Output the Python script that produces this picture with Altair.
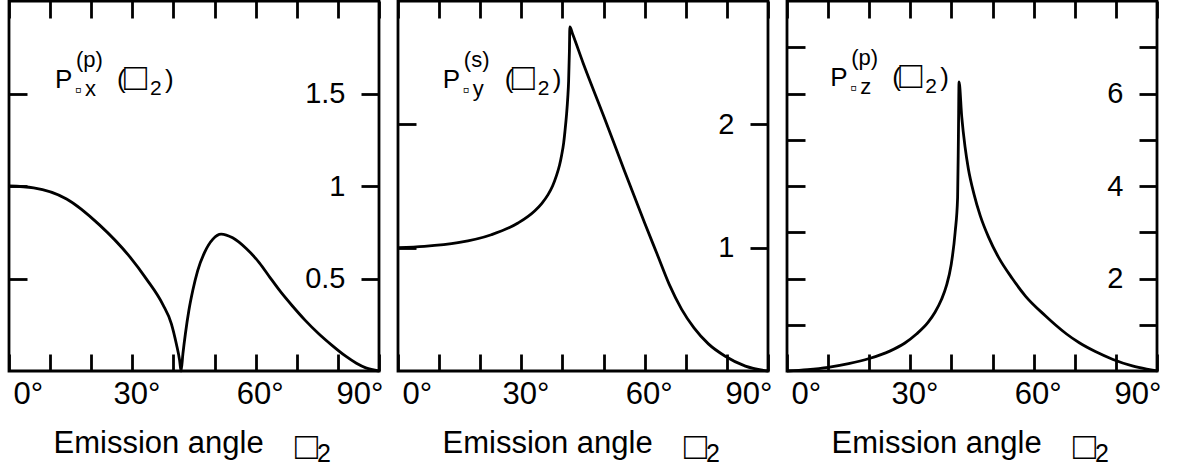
import altair as alt
import pandas as pd

# Emission angle (degrees) and normalized emitted power for the three dipole orientations
angle_x = [0, 6, 14, 22, 29.35, 33.4, 37.4, 39.5, 40.7, 41.5, 41.85, 42.3, 42.9, 43.75, 44.7, 45.9,
           47.55, 49.6, 51.6, 54.4, 57.7, 60.9, 63.5, 66, 69, 72, 75.4, 78.5, 81.9, 84.5, 86.8, 90]
power_x = [1.0, 0.99, 0.93, 0.79, 0.618, 0.498, 0.36, 0.255, 0.147, 0.058, 0.0, 0.093, 0.20, 0.327, 0.435, 0.543,
           0.64, 0.713, 0.74, 0.72, 0.662, 0.585, 0.505, 0.43, 0.35, 0.275, 0.20, 0.14, 0.08, 0.042, 0.017, 0.0]

angle_y = [0, 6.4, 14.6, 22.7, 29.2, 33.3, 35, 36.5, 37.6, 38.5, 39.3, 39.8, 40.3, 40.6, 41.0, 41.3,
           41.5, 41.7, 41.8, 42.5, 45, 50, 55, 60, 63, 66, 69, 72, 75.5, 79.6, 84.5, 90]
power_y = [1.0, 1.01, 1.04, 1.105, 1.20, 1.30, 1.36, 1.43, 1.50, 1.58, 1.67, 1.75, 1.85, 1.94, 2.08, 2.22,
           2.35, 2.6, 2.79, 2.73, 2.50, 2.07, 1.63, 1.20, 0.95, 0.70, 0.50, 0.35, 0.22, 0.12, 0.04, 0.0]

angle_z = [0, 5, 10, 15, 20, 25, 28.6, 31.5, 34.3, 36, 37.6, 38.8, 39.9, 40.9, 41.5, 41.7, 41.85,
           42.5, 43.3, 44.1, 45.5, 47, 49, 51.5, 54.8, 58, 62.9, 65.4, 68, 71.1, 75, 79.3, 84, 87.5, 90]
power_z = [0, 0.03, 0.08, 0.16, 0.27, 0.43, 0.60, 0.80, 1.05, 1.27, 1.55, 1.85, 2.28, 3.0, 3.75, 5.1, 6.25,
           5.5, 4.85, 4.38, 3.82, 3.36, 2.90, 2.45, 2.0, 1.62, 1.19, 0.99, 0.8, 0.61, 0.42, 0.25, 0.11, 0.04, 0]

# Axis ranges, tick positions and labelled ticks per panel
y_domains = [[0, 2], [0, 3], [0, 8]]
y_ticks = [[0.5, 1, 1.5], [1, 2], [1, 2, 3, 4, 5, 6, 7]]
y_labelled = [[0.5, 1, 1.5], [1, 2], [2, 4, 6]]
x_ticks = list(range(0, 91, 10))
x_labelled = [0, 30, 60, 90]

# Panel annotations: superscript, subscript, anchor position (angle, value)
ann_sup = ["(p)", "(s)", "(p)"]
ann_sub = ["x", "y", "z"]
ann_angle = [11.2, 10.9, 10.5]
ann_value = [1.53, 2.295, 6.16]

x_title = "Emission angle"

FONT = "Liberation Sans"
W, H = 370, 370
STROKE = 2.8


def panel(angles, powers, i):
    df = pd.DataFrame({"angle": angles, "power": powers})
    xs = alt.Scale(domain=[0, 90], nice=False, zero=False)
    ys = alt.Scale(domain=y_domains[i], nice=False, zero=False)

    tick_style = dict(tickWidth=STROKE, tickColor="black", domain=False, grid=False,
                      minExtent=0, maxExtent=400)

    labelled = " || ".join(f"datum.value == {v}" for v in x_labelled)
    x_bottom = alt.Axis(
        orient="bottom", values=x_ticks, offset=-17, tickSize=17, **tick_style,
        labelExpr=f"({labelled}) ? datum.value + '°' : ''",
        labelFlush=True, labelOverlap=False, labelFont=FONT, labelFontSize=31,
        labelColor="black", labelPadding=8, labelOffset=4,
        title=x_title, titleFont=FONT, titleFontSize=31,
        titleFontWeight="normal", titleColor="black", titleY=98, titleX=44,
        titleAlign="left", titleAnchor="start", titleBaseline="alphabetic",
    )
    y_left = alt.Axis(
        orient="left", values=y_ticks[i], offset=-18, tickSize=18, **tick_style,
        labels=False, title=None,
    )
    ylab = " || ".join(f"datum.value == {v}" for v in y_labelled[i])
    y_right = alt.Axis(
        orient="right", values=y_ticks[i], offset=-18, tickSize=18, **tick_style,
        format="~g", labelExpr=f"({ylab}) ? datum.label : ''",
        labelAlign="right", labelBaseline="middle", labelPadding=-34,
        labelOverlap=False, labelFont=FONT, labelFontSize=29, labelColor="black",
        title=None,
    )
    x_top = alt.Axis(
        orient="top", values=x_ticks, offset=-17, tickSize=17, **tick_style,
        labels=False, title=None,
    )

    curve = alt.Chart(df).mark_line(
        color="black", strokeWidth=STROKE, interpolate="monotone"
    ).encode(
        x=alt.X("angle:Q", scale=xs, axis=x_bottom),
        y=alt.Y("power:Q", scale=ys, axis=y_left),
    )

    adf = pd.DataFrame({"angle": [ann_angle[i]], "power": [ann_value[i]]})
    # (text, dx, dy, font size) of each piece of the panel label P_x^(p)(θ2)
    pieces = [
        ("P", 0, 0, 26),
        (ann_sup[i], 21, -21, 22),
        ("▫", 20, 8, 19),
        (ann_sub[i], 30, 8, 22),
        ("(", 62, 0, 26),
        ("□", 69, 2, 38),
        ("2", 95, 7, 21),
        (")", 110, 0, 26),
    ]
    layers = [curve]
    for k, (txt, dx, dy, size) in enumerate(pieces):
        first = k == 0
        layers.append(
            alt.Chart(adf).mark_text(
                text=txt, dx=dx, dy=dy, fontSize=size, font=FONT,
                align="left", baseline="alphabetic", color="black",
            ).encode(
                x=alt.X("angle:Q", scale=xs, axis=x_top if first else None),
                y=alt.Y("power:Q", scale=ys, axis=y_right if first else None),
            )
        )

    # symbol and subscript that follow the x-axis title
    for txt, px, py, size in [("□", 286, H + 88, 38), ("2", 308, H + 91, 25)]:
        layers.append(
            alt.Chart(adf).mark_text(
                text=txt, fontSize=size, font=FONT, align="left",
                baseline="alphabetic", color="black",
            ).encode(x=alt.value(px), y=alt.value(py))
        )
    return alt.layer(*layers).resolve_axis(x="independent", y="independent").properties(
        width=W, height=H
    )


chart = alt.hconcat(
    panel(angle_x, power_x, 0),
    panel(angle_y, power_y, 1),
    panel(angle_z, power_z, 2),
    spacing=19,
    bounds="flush",
).properties(
    padding={"left": 2, "top": -2, "right": 0, "bottom": 0},
    background="white",
).configure_view(
    stroke="black", strokeWidth=STROKE
)

chart.save("out.html", embed_options={"renderer": "svg", "actions": False})
